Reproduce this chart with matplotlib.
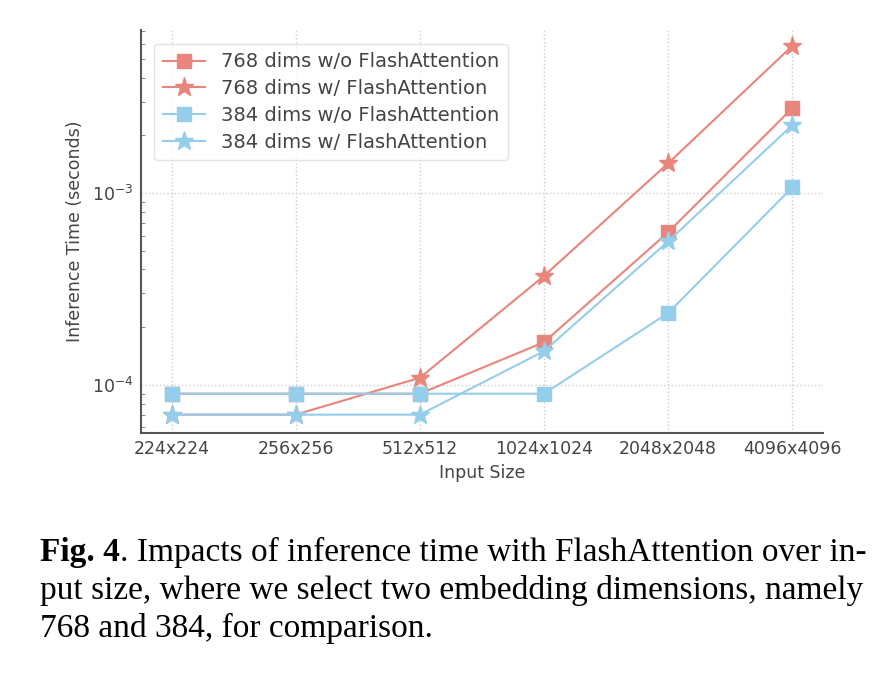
import matplotlib
matplotlib.use("Agg")
import matplotlib.pyplot as plt
import matplotlib.ticker as mticker

sizes = ["224x224", "256x256", "512x512", "1024x1024", "2048x2048", "4096x4096"]
t768_wo = [9.0e-5, 9.0e-5, 9.0e-5, 1.67e-4, 6.25e-4, 2.77e-3]
t768_w = [7.0e-5, 7.0e-5, 1.09e-4, 3.7e-4, 1.43e-3, 5.85e-3]
t384_wo = [9.0e-5, 9.0e-5, 9.0e-5, 9.0e-5, 2.37e-4, 1.07e-3]
t384_w = [7.0e-5, 7.0e-5, 7.0e-5, 1.5e-4, 5.6e-4, 2.26e-3]

red = "#E9857B"
blue = "#94CEEB"
gray = "#444444"

fig = plt.figure(figsize=(8.9, 6.78), dpi=100)
ax = fig.add_axes([0.158, 0.361, 0.767, 0.595])

x = range(len(sizes))
ax.plot(x, t768_wo, marker="s", color=red, ms=10, lw=1.5, label="768 dims w/o FlashAttention")
ax.plot(x, t768_w, marker="*", color=red, ms=14, lw=1.5, label="768 dims w/ FlashAttention")
ax.plot(x, t384_wo, marker="s", color=blue, ms=10, lw=1.5, label="384 dims w/o FlashAttention")
ax.plot(x, t384_w, marker="*", color=blue, ms=14, lw=1.5, label="384 dims w/ FlashAttention")

ax.set_yscale("log")
ax.set_ylim(5.6e-5, 7.1e-3)
ax.set_xlim(-0.25, 5.25)
ax.set_xticks(list(x))
ax.set_xticklabels(sizes)
ax.yaxis.set_major_locator(mticker.LogLocator(base=10, numticks=10))

ax.grid(True, which="major", ls=":", color="#cccccc", lw=1)
for s in ["top", "right"]:
    ax.spines[s].set_visible(False)
for s in ["left", "bottom"]:
    ax.spines[s].set_color("#555555")
    ax.spines[s].set_linewidth(1.5)
ax.tick_params(axis="both", which="both", colors=gray, labelsize=12.5, length=0, pad=5)
ax.tick_params(axis="y", which="minor", length=3, direction="in", color="#777777")

ax.set_xlabel("Input Size", fontsize=12.5, color=gray, labelpad=4)
ax.set_ylabel("Inference Time (seconds)", fontsize=12.5, color=gray, labelpad=6)

leg = ax.legend(loc="upper left", fontsize=14, frameon=True, borderpad=0.45,
                labelspacing=0.4, handlelength=2.2, bbox_to_anchor=(0.005, 0.99))
leg.get_frame().set_edgecolor("#dddddd")
for t in leg.get_texts():
    t.set_color(gray)

# caption
cap_fs = 24
fig.canvas.draw()
r = fig.canvas.get_renderer()
t0 = fig.text(40 / 890, 1 - 561 / 678, "Fig. 4", fontsize=cap_fs, fontweight="bold",
              family="Liberation Serif", va="baseline")
bb = t0.get_window_extent(r)
fig.text(bb.x1 / 890, 1 - 561 / 678,
         ". Impacts of inference time with FlashAttention over in-",
         fontsize=cap_fs, family="Liberation Serif", va="baseline")
fig.text(40 / 890, 1 - 599 / 678,
         "put size, where we select two embedding dimensions, namely",
         fontsize=cap_fs, family="Liberation Serif", va="baseline")
fig.text(40 / 890, 1 - 637 / 678, "768 and 384, for comparison.",
         fontsize=cap_fs, family="Liberation Serif", va="baseline")

fig.savefig("out.png", dpi=100)
